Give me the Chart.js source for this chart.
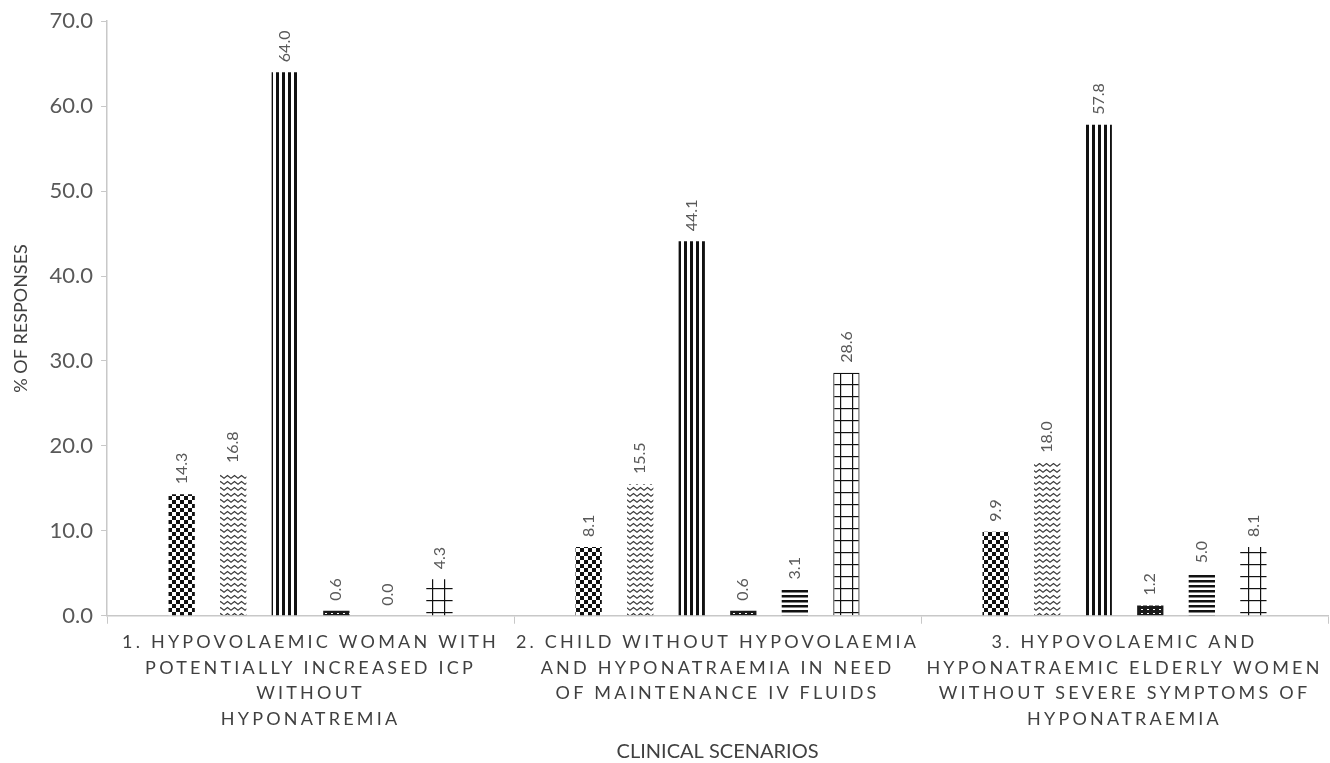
<!DOCTYPE html>
<html>
<head>
<meta charset="utf-8">
<script src="https://cdn.jsdelivr.net/npm/chart.js@4.4.1/dist/chart.umd.min.js"></script>
<style>
  html, body { margin: 0; padding: 0; background: #ffffff; }
  #wrap { width: 1330px; height: 763px; }
</style>
</head>
<body>
<div id="wrap"><canvas id="chart" width="1330" height="763"></canvas></div>
<script>
// Clinical scenarios (multi-line category labels)
const scenarios = [
  ["1. HYPOVOLAEMIC WOMAN WITH", "POTENTIALLY INCREASED ICP", "WITHOUT", "HYPONATREMIA"],
  ["2. CHILD WITHOUT HYPOVOLAEMIA", "AND HYPONATRAEMIA IN NEED", "OF MAINTENANCE IV FLUIDS"],
  ["3. HYPOVOLAEMIC AND", "HYPONATRAEMIC ELDERLY WOMEN", "WITHOUT SEVERE SYMPTOMS OF", "HYPONATRAEMIA"]
];

// Percentage of responses per fluid choice, one array per choice
const choice1 = [14.3, 8.1, 9.9];
const choice2 = [16.8, 15.5, 18.0];
const choice3 = [64.0, 44.1, 57.8];
const choice4 = [0.6, 0.6, 1.2];
const choice5 = [0.0, 3.1, 5.0];
const choice6 = [4.3, 28.6, 8.1];

const yTicks = [0, 10, 20, 30, 40, 50, 60, 70];

const FONT = "Lato, 'Open Sans', sans-serif";

// Monochrome hatch fills
function makePattern(w, h, paint) {
  const c = document.createElement('canvas');
  c.width = w; c.height = h;
  const g = c.getContext('2d');
  g.fillStyle = '#ffffff';
  g.fillRect(0, 0, w, h);
  paint(g, w, h);
  return g.createPattern(c, 'repeat');
}

const checker = makePattern(8, 8, g => {
  g.fillStyle = '#111';
  g.fillRect(0, 0, 4, 4);
  g.fillRect(4, 4, 4, 4);
});
const zigzag = makePattern(7, 6, g => {
  g.strokeStyle = '#3a3a3a';
  g.lineWidth = 1.2;
  g.beginPath();
  g.moveTo(-0.5, 4.5); g.lineTo(3.5, 1.5); g.lineTo(7.5, 4.5);
  g.stroke();
});
const vlines = makePattern(6, 4, g => {
  g.fillStyle = '#111';
  g.fillRect(0, 0, 3, 4);
});
const darkDots = makePattern(6, 4, g => {
  g.fillStyle = '#1a1a1a';
  g.fillRect(0, 0, 6, 4);
  g.fillStyle = '#ffffff';
  g.fillRect(1, 1, 2, 1);
});
const hlines = makePattern(4, 5, g => {
  g.fillStyle = '#111';
  g.fillRect(0, 0, 4, 2.5);
});
const grid = makePattern(12, 12, g => {
  g.fillStyle = '#111';
  g.fillRect(0, 0, 1.2, 12);
  g.fillRect(0, 0, 12, 1.2);
});

// Rotated value labels above every bar
const valueLabels = {
  id: 'valueLabels',
  afterDatasetsDraw(chart) {
    const ctx = chart.ctx;
    ctx.save();
    ctx.font = "16px " + FONT;
    ctx.fillStyle = '#595959';
    ctx.textAlign = 'left';
    ctx.textBaseline = 'middle';
    chart.data.datasets.forEach((ds, di) => {
      const meta = chart.getDatasetMeta(di);
      meta.data.forEach((bar, i) => {
        const v = ds.data[i];
        ctx.save();
        ctx.translate(bar.x, bar.y - 10);
        ctx.rotate(-Math.PI / 2);
        ctx.fillText(v.toFixed(1), 0, 0);
        ctx.restore();
      });
    });
    ctx.restore();
  }
};

// Spaced-out lettering for the scenario labels on the x axis
const spacedCategoryLabels = {
  id: 'spacedCategoryLabels',
  beforeDraw(chart) {
    const sc = chart.scales.x;
    if (!sc || sc._spacedWrapped) return;
    const orig = sc.drawLabels;
    sc.drawLabels = function (area) {
      const ctx = this.ctx;
      ctx.save();
      ctx.letterSpacing = '3.2px';
      orig.call(this, area);
      ctx.restore();
    };
    sc._spacedWrapped = true;
  }
};

new Chart(document.getElementById('chart'), {
  type: 'bar',
  data: {
    labels: scenarios,
    datasets: [
      { label: 'Choice 1', data: choice1, backgroundColor: checker },
      { label: 'Choice 2', data: choice2, backgroundColor: zigzag },
      { label: 'Choice 3', data: choice3, backgroundColor: vlines },
      { label: 'Choice 4', data: choice4, backgroundColor: darkDots },
      { label: 'Choice 5', data: choice5, backgroundColor: hlines },
      { label: 'Choice 6', data: choice6, backgroundColor: grid,
        borderColor: '#111', borderWidth: [0, 1.2, 0] }
    ].map(d => Object.assign({ categoryPercentage: 0.76, barPercentage: 0.51, borderSkipped: 'bottom' }, d))
  },
  options: {
    responsive: false,
    animation: false,
    devicePixelRatio: 1,
    layout: { padding: { top: 15, right: 2, left: 10, bottom: 0 } },
    plugins: {
      legend: { display: false },
      tooltip: { enabled: false }
    },
    scales: {
      x: {
        offset: true,
        grid: { display: true, drawOnChartArea: false, drawTicks: true, tickLength: 8, color: '#c8c8c8', offset: true },
        border: { display: true, color: '#c8c8c8', width: 1.5 },
        ticks: {
          autoSkip: false, maxRotation: 0, minRotation: 0,
          color: '#404040',
          font: { family: FONT, size: 18, lineHeight: 1.42 },
          padding: 6
        },
        title: {
          display: true, text: 'CLINICAL SCENARIOS', color: '#404040',
          font: { family: FONT, size: 20, lineHeight: 1.1 },
          padding: { top: 3, bottom: 0 }
        }
      },
      y: {
        min: 0, max: 70,
        afterBuildTicks(scale) { scale.ticks = yTicks.map(v => ({ value: v })); },
        grid: { display: true, drawOnChartArea: false, drawTicks: true, tickLength: 6, color: '#c8c8c8' },
        border: { display: true, color: '#c8c8c8', width: 1.5 },
        ticks: {
          color: '#595959',
          font: { family: FONT, size: 22 },
          padding: 8,
          callback: v => Number(v).toFixed(1)
        },
        title: {
          display: true, text: '% OF RESPONSES', color: '#404040',
          font: { family: FONT, size: 18 },
          padding: { top: 0, bottom: 10 }
        }
      }
    }
  },
  plugins: [valueLabels, spacedCategoryLabels]
});
</script>
</body>
</html>
